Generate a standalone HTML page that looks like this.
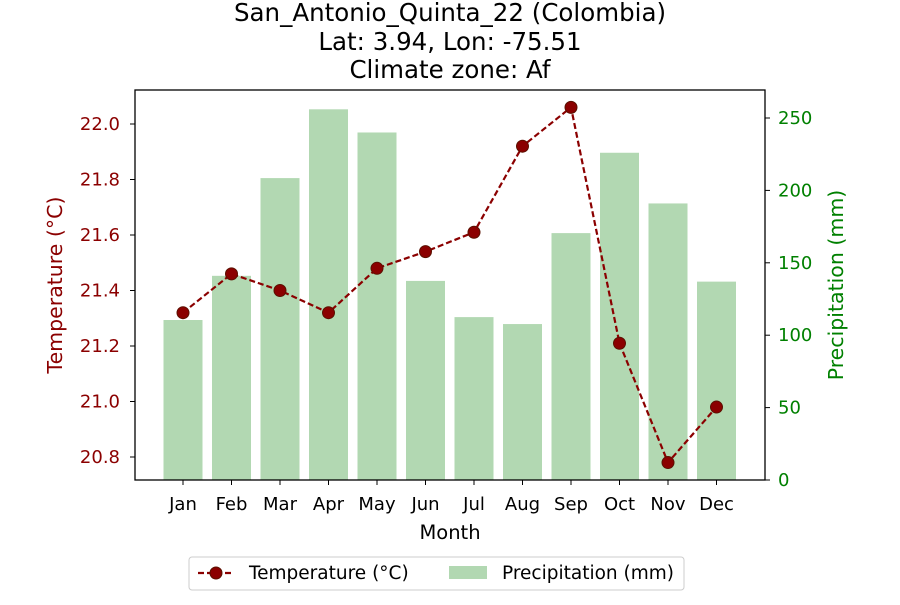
<!DOCTYPE html>
<html><head><meta charset="utf-8"><style>
body{margin:0;background:#fff;font-family:"Liberation Sans","DejaVu Sans",sans-serif;}
svg text{font-family:"DejaVu Sans","Liberation Sans",sans-serif;}
</style></head><body>
<svg id="chart" width="900" height="600" viewBox="0 0 900 600">
<g font-size="24.5" text-anchor="middle" fill="#000">
<text x="450" y="21">San_Antonio_Quinta_22 (Colombia)</text>
<text x="450" y="50">Lat: 3.94, Lon: -75.51</text>
<text x="450" y="78">Climate zone: Af</text>
</g>
<g id="bars"></g>
<g id="line"></g>
<rect x="135" y="90" width="630" height="390" fill="none" stroke="#000" stroke-width="1.3"/>
<g id="axes"></g>
<text transform="translate(62,285) rotate(-90)" text-anchor="middle" font-size="20.5" fill="#8b0000">Temperature (°C)</text>
<text transform="translate(843,285) rotate(-90)" text-anchor="middle" font-size="20.5" fill="#008000">Precipitation (mm)</text>
<text x="450" y="539" text-anchor="middle" font-size="19.5">Month</text>
<g>
<rect x="189" y="557" width="495" height="33" rx="3" fill="#fff" stroke="#ccc"/>
<g>
<line x1="198" y1="573" x2="234" y2="573" stroke="#8b0000" stroke-width="2.2" stroke-dasharray="6,3"/>
<circle cx="216" cy="573" r="6" fill="#8b0000" stroke="#5a1000"/>
<text x="249" y="579" font-size="18.5">Temperature (°C)</text></g>
<g>
<rect x="449" y="566" width="38" height="13" fill="#b2d8b2"/>
<text x="502" y="579" font-size="18.5">Precipitation (mm)</text></g>
</g>
</svg>
<script>
const months=["Jan","Feb","Mar","Apr","May","Jun","Jul","Aug","Sep","Oct","Nov","Dec"];
const temps=[21.32,21.46,21.40,21.32,21.48,21.54,21.61,21.92,22.06,21.21,20.78,20.98];
const precip=[110.5,141,208.5,256,240,137.5,112.5,107.7,170.5,226,191,137];
const tempTicks=[20.8,21.0,21.2,21.4,21.6,21.8,22.0];
const precipTicks=[0,50,100,150,200,250];
const NS="http://www.w3.org/2000/svg";
const L=135,R=765,T=90,B=480;
const xS=i=>183+i*48.5;
const yT=v=>457-(v-20.8)*277.5;
const yP=v=>480-v*1.448;
function mk(t,a,p){const e=document.createElementNS(NS,t);for(const k in a)e.setAttribute(k,a[k]);(p||document.getElementById('axes')).appendChild(e);return e;}
const bars=document.getElementById('bars');
precip.forEach((v,i)=>{const r=mk('rect',{x:xS(i)-19.5,y:yP(v),width:39,height:yP(0)-yP(v),fill:'#b2d8b2'},bars);

});
const line=document.getElementById('line');
mk('polyline',{points:temps.map((v,i)=>xS(i)+','+yT(v)).join(' '),fill:'none',stroke:'#8b0000','stroke-width':2.2,'stroke-dasharray':'6,3'},line);
temps.forEach((v,i)=>{const c=mk('circle',{cx:xS(i),cy:yT(v),r:6,fill:'#8b0000',stroke:'#5a1000'},line);

});
tempTicks.forEach(v=>{mk('line',{x1:L-5,x2:L,y1:yT(v),y2:yT(v),stroke:'#000'});
const t=mk('text',{x:L-15,y:yT(v)+6,'text-anchor':'end','font-size':18,fill:'#8b0000'});t.textContent=v.toFixed(1);

});
precipTicks.forEach(v=>{mk('line',{x1:R,x2:R+5,y1:yP(v),y2:yP(v),stroke:'#000'});
const t=mk('text',{x:R+13,y:yP(v)+6,'font-size':18,fill:'#008000'});t.textContent=v;

});
months.forEach((m,i)=>{mk('line',{x1:xS(i),x2:xS(i),y1:B,y2:B+5,stroke:'#000'});
const t=mk('text',{x:xS(i),y:B+30,'text-anchor':'middle','font-size':18});t.textContent=m;

});
</script>
</body></html>
